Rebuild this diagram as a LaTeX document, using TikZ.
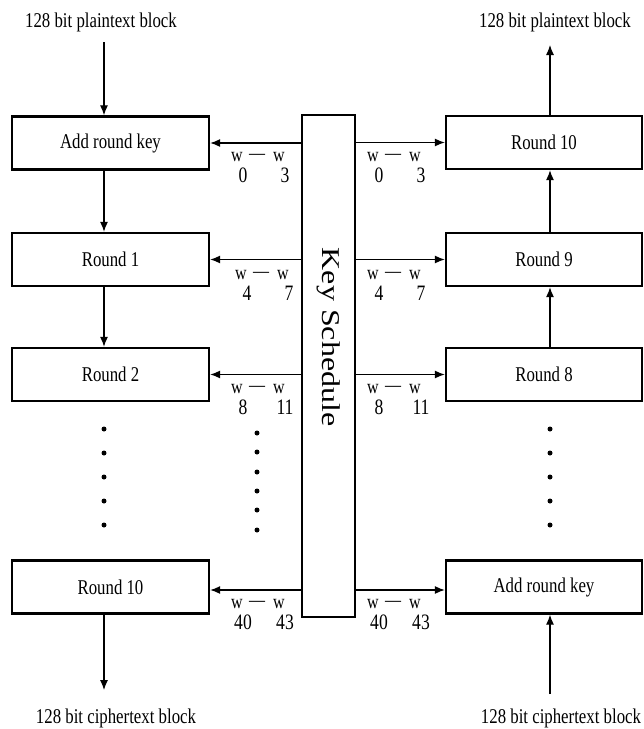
\documentclass[tikz,border=0pt]{standalone}
\usepackage{fontspec}
\setmainfont[FakeStretch=0.8]{Liberation Serif}
\newfontfamily\ksfont{Liberation Serif}
\usetikzlibrary{arrows.meta}
\tikzset{
  blk/.style={draw, line width=2.4pt, minimum height=53pt, inner sep=0pt, font=\fontsize{21}{21}\selectfont},
  lblk/.style={blk, minimum width=197pt},
  rblk/.style={blk, minimum width=196pt},
  arr/.style={-{Latex[length=10pt,width=8pt]}, line width=1.1pt},
  io/.style={font=\fontsize{21}{21}\selectfont, inner sep=0pt},
  wl/.style={font=\fontsize{20}{20}\selectfont, inner sep=0pt},
  ws/.style={font=\fontsize{22}{22}\selectfont, inner sep=0pt},
  dotm/.style={fill=black, circle, inner sep=0pt, minimum size=5pt}
}
\newcommand\wlabel[5]{%
  \node[wl] (#5a) at (#1,#2) {w};
  \node[wl] (#5d) at (#1+20,#2) {—};
  \node[wl] (#5b) at (#1+42,#2) {w};
  \node[ws] (#5s) at (#1+6,#2+18) {#3};
  \node[ws] (#5t) at (#1+48,#2+18) {#4};}
\begin{document}
\begin{tikzpicture}[x=1pt,y=-1pt]
\useasboundingbox (0,0) rectangle (644,729);
% text at ends
\node[io] (tl) at (101,22) {128 bit plaintext block};
\node[io] (tr) at (555,22) {128 bit plaintext block};
\node[io] (bl) at (116,718) {128 bit ciphertext block};
\node[io] (br) at (561,718) {128 bit ciphertext block};
% left boxes
\node[lblk] (ark) at (110.5,143) {Add round key};
\node[lblk] (r1) at (110.5,259.5) {Round 1};
\node[lblk] (r2) at (110.5,374.5) {Round 2};
\node[lblk] (r10) at (110.5,587) {Round 10};
% key schedule
\node[draw, line width=2.4pt, minimum width=53pt, minimum height=502pt, inner sep=0pt] (ks) at (328.5,366) {};
\node[rotate=-90, font=\ksfont\fontsize{32}{32}\selectfont, inner sep=0pt] (kst) at (328.5,337) {\scalebox{1}[0.8]{Key Schedule}};
% right boxes
\node[rblk] (q10) at (544,142.5) {Round 10};
\node[rblk] (q9) at (544,259.5) {Round 9};
\node[rblk] (q8) at (544,374.5) {Round 8};
\node[rblk] (qark) at (544,587) {Add round key};
% left vertical arrows
\coordinate (tlend) at (104,42);
\coordinate (blend) at (104,690);
\draw[arr] (tlend) -- (tlend |- ark.north);
\draw[arr] ([xshift=-6.5pt]ark.south) -- ([xshift=-6.5pt]r1.north);
\draw[arr] ([xshift=-6.5pt]r1.south) -- ([xshift=-6.5pt]r2.north);
\draw[arr] ([xshift=-6.5pt]r10.south) -- (blend);
% right vertical arrows
\coordinate (trend) at (550,45);
\coordinate (brend) at (550,694);
\draw[arr] (trend |- q10.north) -- (trend);
\draw[arr] ([xshift=6pt]q9.north) -- ([xshift=6pt]q10.south);
\draw[arr] ([xshift=6pt]q8.north) -- ([xshift=6pt]q9.south);
\draw[arr] (brend) -- (brend |- qark.south);
% horizontal arrows
\draw[arr] (ks.west |- ark.east) -- (ark.east);
\draw[arr] (ks.west |- r1.east) -- (r1.east);
\draw[arr] (ks.west |- r2.east) -- (r2.east);
\draw[arr] (ks.west |- 0,590) -- (r10.east |- 0,590);
\draw[arr] (ks.east |- q10.west) -- (q10.west);
\draw[arr] (ks.east |- q9.west) -- (q9.west);
\draw[arr] (ks.east |- q8.west) -- (q8.west);
\draw[arr] (ks.east |- 0,590) -- (qark.west |- 0,590);
% labels
\wlabel{237}{157}{0}{3}{la}
\wlabel{373}{157}{0}{3}{ra}
\wlabel{241}{275}{4}{7}{lb}
\wlabel{373}{275}{4}{7}{rb}
\wlabel{237}{389}{8}{11}{lc}
\wlabel{373}{389}{8}{11}{rc}
\wlabel{237}{604}{40}{43}{ld}
\wlabel{373}{604}{40}{43}{rd}
% dots
\foreach \y [count=\i] in {429,453,477,501,525} {
  \node[dotm] (dl\i) at (104,\y) {};
  \node[dotm] (dr\i) at (550,\y) {};
}
\foreach \y [count=\i] in {433,452,472,491,510,530} {
  \node[dotm] (dm\i) at (257,\y) {};
}
\end{tikzpicture}
\end{document}
